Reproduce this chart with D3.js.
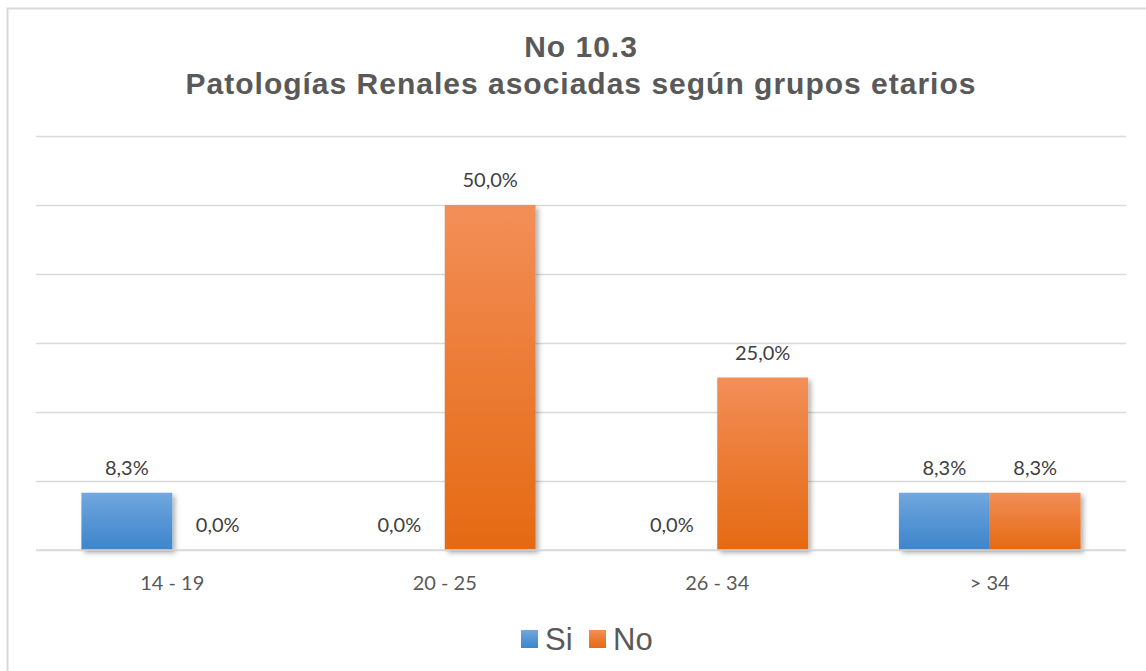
<!DOCTYPE html>
<html>
<head>
<meta charset="utf-8">
<script src="https://cdn.jsdelivr.net/npm/d3@7"></script>
<style>
  body { margin: 0; background: #fff; }
</style>
</head>
<body>
<div id="chart"></div>
<script>
(function () {

  // Data
  const categories = ["14 - 19", "20 - 25", "26 - 34", "> 34"];
  const series = ["Si", "No"];
  const siValues = [8.3, 0, 0, 8.3];
  const noValues = [0, 50, 25, 8.3];
  const yTicks = [0, 10, 20, 30, 40, 50, 60];

  const W = 1146, H = 671;
  const margin = { top: 136, left: 36 },
        width = 1126 - margin.left,
        height = 550 - margin.top;

  const svg = d3.select("#chart")
    .append("svg")
    .attr("width", W)
    .attr("height", H);

  const defs = svg.append("defs");
  const grads = [
    { id: "gSi", top: "#72A8DE", bottom: "#3E85CB" },
    { id: "gNo", top: "#F28F59", bottom: "#E56A14" }
  ];
  grads.forEach(g => {
    const lg = defs.append("linearGradient")
      .attr("id", g.id).attr("x1", 0).attr("y1", 0).attr("x2", 0).attr("y2", 1);
    lg.append("stop").attr("offset", "0%").attr("stop-color", g.top);
    lg.append("stop").attr("offset", "50%").attr("stop-color", d3.interpolateRgb(g.top, g.bottom)(0.55));
    lg.append("stop").attr("offset", "100%").attr("stop-color", g.bottom);
  });
  const f = defs.append("filter").attr("id", "shadow")
    .attr("x", "-10%").attr("y", "-10%").attr("width", "130%").attr("height", "130%");
  f.append("feDropShadow").attr("dx", 3).attr("dy", 3).attr("stdDeviation", 2.5)
    .attr("flood-color", "#000").attr("flood-opacity", 0.3);

  // Outer frame
  svg.append("rect")
    .attr("x", 7.5).attr("y", 8.5)
    .attr("width", W + 20).attr("height", H + 20)
    .attr("fill", "none")
    .attr("stroke", "#d9d9d9")
    .attr("stroke-width", 2);

  const g = svg.append("g")
    .attr("transform", `translate(${margin.left},${margin.top})`);

  const x0 = d3.scaleBand().domain(categories).range([0, width]).paddingInner(1 / 3).paddingOuter(1 / 6);
  const x1 = d3.scaleBand().domain(series).range([0, x0.bandwidth()]);
  const y = d3.scaleLinear().domain([0, 60]).range([height, 0]);

  // Gridlines
  g.append("g")
    .call(d3.axisLeft(y).tickValues(yTicks).tickSize(-width).tickFormat(""))
    .call(a => a.select(".domain").remove())
    .call(a => a.selectAll("line").attr("stroke", "#d9d9d9").attr("stroke-width", 1.5));

  const rows = categories.map((c, i) => ({ cat: c, values: [siValues[i], noValues[i]] }));

  const groups = g.selectAll(".grp")
    .data(rows)
    .enter().append("g")
    .attr("transform", d => `translate(${x0(d.cat)},0)`);

  groups.selectAll("rect")
    .data(d => d.values.map((v, j) => ({ s: series[j], v })))
    .enter().append("rect")
    .filter(d => d.v > 0)
    .attr("x", d => x1(d.s))
    .attr("y", d => y(d.v))
    .attr("width", x1.bandwidth())
    .attr("height", d => y(0) - y(d.v))
    .attr("fill", d => d.s === "Si" ? "url(#gSi)" : "url(#gNo)")
    .attr("filter", "url(#shadow)");

  groups.selectAll("text")
    .data(d => d.values.map((v, j) => ({ s: series[j], v })))
    .enter().append("text")
    .attr("x", d => x1(d.s) + x1.bandwidth() / 2)
    .attr("y", d => y(d.v) - 25)
    .attr("dy", "0.36em")
    .attr("text-anchor", "middle")
    .style("font-family", "Lato, 'Open Sans', sans-serif")
    .style("font-size", "20px")
    .style("fill", "#404040")
    .text(d => d.v.toFixed(1).replace(".", ",") + "%");

  // X axis
  g.append("line")
    .attr("x1", 0).attr("x2", width)
    .attr("y1", height).attr("y2", height)
    .attr("stroke", "#d9d9d9").attr("stroke-width", 1.5);

  g.append("g")
    .attr("transform", `translate(0,${height})`)
    .call(d3.axisBottom(x0).tickSize(0).tickPadding(26))
    .call(a => a.select(".domain").remove())
    .call(a => a.selectAll("text")
      .style("font-family", "Lato, 'Open Sans', sans-serif")
      .style("font-size", "20px")
      .style("fill", "#595959"));

  // Title
  const title = svg.append("text")
    .attr("text-anchor", "middle")
    .style("font-family", "'Liberation Sans', Arial, sans-serif")
    .style("font-size", "30px")
    .style("letter-spacing", "1px")
    .style("font-weight", "bold")
    .style("fill", "#595959");
  title.append("tspan").attr("x", 581).attr("y", 57).text("No 10.3");
  title.append("tspan").attr("x", 581).attr("y", 94).text("Patologías Renales asociadas según grupos etarios");

  // Legend
  const legend = svg.append("g").attr("transform", "translate(521,630)");
  const legendItems = [
    { name: "Si", fill: "url(#gSi)", dx: 0 },
    { name: "No", fill: "url(#gNo)", dx: 68 }
  ];
  const li = legend.selectAll("g").data(legendItems).enter().append("g")
    .attr("transform", d => `translate(${d.dx},0)`);
  li.append("rect").attr("width", 17).attr("height", 18).attr("fill", d => d.fill);
  li.append("text")
    .attr("x", 24).attr("y", 20)
    .style("font-family", "'Liberation Sans', Arial, sans-serif")
    .style("font-size", "31px")
    .style("fill", "#595959")
    .text(d => d.name);

})();
</script>
</body>
</html>
